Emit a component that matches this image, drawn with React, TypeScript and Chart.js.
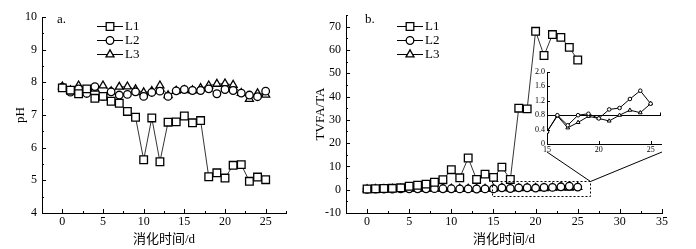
import React, { useEffect, useRef } from 'react';
import { Chart, registerables } from 'chart.js';
Chart.register(...registerables);

// ---------- data ----------
const days = [0, 1, 2, 3, 4, 5, 6, 7, 8, 9, 10, 11, 12, 13, 14, 15, 16, 17, 18, 19, 20, 21, 22, 23, 24, 25];
const seriesNames = ['L1', 'L2', 'L3'];

const phL1 = [7.83, 7.76, 7.65, 7.8, 7.51, 7.57, 7.42, 7.36, 7.11, 6.93, 5.63, 6.91, 5.57, 6.78, 6.79, 6.97, 6.76, 6.83, 5.11, 5.23, 5.07, 5.46, 5.48, 4.97, 5.1, 5.02];
const phL2 = [7.85, 7.7, 7.8, 7.66, 7.87, 7.57, 7.71, 7.61, 7.63, 7.71, 7.57, 7.69, 7.73, 7.57, 7.74, 7.78, 7.75, 7.75, 7.8, 7.65, 7.78, 7.75, 7.67, 7.61, 7.56, 7.73];
const phL3 = [7.87, 7.75, 7.9, 7.7, 7.8, 7.9, 7.72, 7.86, 7.87, 7.78, 7.69, 7.73, 7.9, 7.6, 7.74, 7.76, 7.75, 7.82, 7.9, 7.95, 7.96, 7.92, 7.67, 7.49, 7.66, 7.62];

const tvL1 = [0.3, 0.4, 0.5, 0.6, 0.8, 1.5, 1.9, 2.4, 3.2, 4.3, 8.6, 5.1, 13.6, 4.4, 6.7, 5.3, 9.7, 4.4, 35.0, 34.7, 68.0, 57.6, 66.6, 65.4, 61.1, 55.7];
const tvL2 = [0.2, 0.25, 0.3, 0.3, 0.35, 0.4, 0.4, 0.4, 0.45, 0.4, 0.4, 0.35, 0.35, 0.3, 0.35, 0.34, 0.8, 0.52, 0.8, 0.84, 0.71, 0.96, 1.0, 1.25, 1.48, 1.12];
const tvL3 = [0.15, 0.2, 0.25, 0.3, 0.3, 0.35, 0.35, 0.35, 0.4, 0.35, 0.35, 0.3, 0.3, 0.3, 0.3, 0.34, 0.78, 0.45, 0.6, 0.77, 0.71, 0.64, 0.8, 0.94, 0.87, 1.12];

const insetDays = [15, 16, 17, 18, 19, 20, 21, 22, 23, 24, 25];
const insetRef = 0.8;
const zoomBox = { x0: 14.8, x1: 26.4, y0: -2.9, y1: 3.55 };

const xTicksA = [0, 5, 10, 15, 20, 25];
const yTicksA = [4, 5, 6, 7, 8, 9, 10];
const xTicksB = [0, 5, 10, 15, 20, 25, 30, 35];
const yTicksB = [-10, 0, 10, 20, 30, 40, 50, 60, 70];
const xTicksInset = [15, 20, 25];
const yTicksInset = [0, 0.4, 0.8, 1.2, 1.6, 2.0];

// ---------- style ----------
const SERIF = '"Liberation Serif", "Times New Roman", serif';
const CJK = '"Liberation Serif", "Noto Sans CJK SC", serif';
const styles = ['rect', 'circle', 'triangle'];
const radii = [5.4, 3.8, 4.6];

function toPts(xs: number[], ys: number[]) {
  return xs.map((x, i) => ({ x, y: ys[i] }));
}

function mkDataset(label: string, xs: number[], ys: number[], i: number, small = false) {
  return {
    label,
    data: toPts(xs, ys),
    borderColor: '#000',
    borderWidth: small ? 1 : 0.8,
    pointStyle: styles[i],
    pointRadius: small ? (i === 2 ? 2.2 : 1.8) : radii[i],
    pointBorderWidth: small ? 1 : 1.3,
    pointBorderColor: '#000',
    pointBackgroundColor: '#fff',
    fill: false,
    tension: 0,
  };
}

function drawMarker(ctx: CanvasRenderingContext2D, style: string, x: number, y: number, r: number) {
  ctx.beginPath();
  if (style === 'rect') {
    const s = r * Math.SQRT1_2;
    ctx.rect(x - s, y - s, 2 * s, 2 * s);
  } else if (style === 'circle') {
    ctx.arc(x, y, r, 0, Math.PI * 2);
  } else {
    const a = -Math.PI / 2;
    for (let k = 0; k < 3; k++) {
      const ang = a + (k * 2 * Math.PI) / 3;
      const px = x + r * Math.cos(ang);
      const py = y + r * Math.sin(ang);
      if (k === 0) ctx.moveTo(px, py);
      else ctx.lineTo(px, py);
    }
    ctx.closePath();
  }
  ctx.fillStyle = '#fff';
  ctx.fill();
  ctx.lineWidth = 1.3;
  ctx.strokeStyle = '#000';
  ctx.stroke();
}

const inTicksPlugin = {
  id: 'inTicks',
  afterDraw(chart: any, _a: any, opts: any) {
    const ctx = chart.ctx;
    const { left, bottom } = chart.chartArea;
    ctx.save();
    ctx.strokeStyle = '#000';
    ctx.lineWidth = 1;
    for (const id of ['x', 'y']) {
      const s = chart.scales[id];
      const vals = s.ticks.map((t: any) => t.value);
      const step = vals[1] - vals[0];
      const draw = (v: number, len: number) => {
        const p = Math.round(s.getPixelForValue(v)) + 0.5;
        ctx.beginPath();
        if (id === 'x') {
          ctx.moveTo(p, bottom);
          ctx.lineTo(p, bottom - len);
        } else {
          ctx.moveTo(left, p);
          ctx.lineTo(left + len, p);
        }
        ctx.stroke();
      };
      vals.forEach((v: number) => draw(v, opts.major));
      if (opts.minor) {
        for (let v = vals[0] - step / 2; v <= s.max + 1e-9; v += step) {
          if (v >= s.min - 1e-9) draw(v, opts.minor);
        }
      }
    }
    ctx.restore();
  },
};

const legendPlugin = {
  id: 'customLegend',
  afterDraw(chart: any, _a: any, o: any) {
    if (!o || !o.show) return;
    const ctx = chart.ctx;
    const ca = chart.chartArea;
    ctx.save();
    chart.data.datasets.forEach((ds: any, i: number) => {
      const y = ca.top + o.y0 + i * o.dy;
      const x1 = ca.left + o.x0;
      const x2 = x1 + o.len;
      ctx.strokeStyle = '#000';
      ctx.lineWidth = 1;
      ctx.beginPath();
      ctx.moveTo(x1, y + 0.5);
      ctx.lineTo(x2, y + 0.5);
      ctx.stroke();
      drawMarker(ctx, ds.pointStyle, (x1 + x2) / 2, y + 0.5, ds.pointRadius);
      ctx.fillStyle = '#000';
      ctx.font = `13px ${SERIF}`;
      ctx.textBaseline = 'middle';
      ctx.textAlign = 'left';
      ctx.fillText(ds.label, x2 + 2, y + 1);
    });
    ctx.font = `13px ${SERIF}`;
    ctx.fillStyle = '#000';
    ctx.textBaseline = 'middle';
    ctx.fillText(o.panel, ca.left + o.px, ca.top + o.py);
    ctx.restore();
  },
};

function axisCommon(min: number, max: number, ticks: number[], size: number, fmt?: (v: number) => string) {
  return {
    type: 'linear',
    min,
    max,
    afterBuildTicks: (s: any) => {
      s.ticks = ticks.map((v) => ({ value: v }));
    },
    grid: { display: false, drawTicks: false },
    border: { display: true, color: '#000', width: 1 },
    ticks: {
      color: '#000',
      font: { family: SERIF, size },
      autoSkip: false,
      maxRotation: 0,
      callback: fmt ? (v: any) => fmt(Number(v)) : (v: any) => String(v),
    },
  };
}

export default function App() {
  const leftRef = useRef<HTMLCanvasElement>(null);
  const rightRef = useRef<HTMLCanvasElement>(null);
  const insetRef2 = useRef<HTMLCanvasElement>(null);

  const RIGHT_LEFT = 300;
  const INSET_LEFT = 520;
  const INSET_TOP = 60;

  useEffect(() => {
    document.body.style.margin = '0';

    // ---- left: pH ----
    const left = new Chart(leftRef.current as HTMLCanvasElement, {
      type: 'line',
      data: {
        datasets: [
          mkDataset(seriesNames[0], days, phL1, 0),
          mkDataset(seriesNames[1], days, phL2, 1),
          mkDataset(seriesNames[2], days, phL3, 2),
        ],
      },
      options: {
        animation: false,
        responsive: false,
        maintainAspectRatio: false,
        layout: { padding: { top: 17, right: 14, left: 0, bottom: 0 } },
        plugins: {
          legend: { display: false },
          tooltip: { enabled: false },
          inTicks: { major: 4, minor: 2 },
          customLegend: { show: true, x0: 55, len: 26, y0: 9, dy: 14, panel: 'a.', px: 15, py: 3 },
        } as any,
        scales: {
          x: {
            ...axisCommon(-2.5, 27.5, xTicksA, 12),
            afterFit: (s: any) => {
              s.height = 36;
            },
            ticks: { ...axisCommon(0, 0, [], 12).ticks, padding: 2 },
            title: { display: true, text: '消化时间/d', color: '#000', font: { family: CJK, size: 13 }, padding: { top: 0, bottom: 2 } },
          },
          y: {
            ...axisCommon(4, 10, yTicksA, 12),
            afterFit: (s: any) => {
              s.width = 42;
            },
            ticks: { ...axisCommon(0, 0, [], 12).ticks, padding: 5 },
            title: { display: true, text: 'pH', color: '#000', font: { family: SERIF, size: 13 }, padding: { top: 13, bottom: 0 } },
          },
        } as any,
      },
      plugins: [inTicksPlugin, legendPlugin],
    } as any);

    // ---- inset ----
    const inset = new Chart(insetRef2.current as HTMLCanvasElement, {
      type: 'line',
      data: {
        datasets: [
          mkDataset(seriesNames[1], insetDays, tvL2.slice(15), 1, true),
          mkDataset(seriesNames[2], insetDays, tvL3.slice(15), 2, true),
        ],
      },
      options: {
        animation: false,
        responsive: false,
        maintainAspectRatio: false,
        layout: { padding: { top: 12, right: 9, left: 0, bottom: 0 } },
        plugins: {
          legend: { display: false },
          tooltip: { enabled: false },
          inTicks: { major: 3, minor: 0 },
          customLegend: { show: false },
        } as any,
        scales: {
          x: {
            ...axisCommon(15, 26, xTicksInset, 8),
            afterFit: (s: any) => {
              s.height = 16;
            },
            ticks: { ...axisCommon(0, 0, [], 8).ticks, padding: 1 },
          },
          y: {
            ...axisCommon(0, 2.0, yTicksInset, 8, (v) => (v === 0 ? '0' : v.toFixed(1))),
            afterFit: (s: any) => {
              s.width = 27;
            },
            ticks: { ...axisCommon(0, 0, [], 8, (v) => (v === 0 ? '0' : v.toFixed(1))).ticks, padding: 2 },
          },
        } as any,
      },
      plugins: [
        inTicksPlugin,
        {
          id: 'refLine',
          beforeDatasetsDraw(chart: any) {
            const ctx = chart.ctx;
            const ca = chart.chartArea;
            const y = Math.round(chart.scales.y.getPixelForValue(insetRef)) + 0.5;
            ctx.save();
            ctx.strokeStyle = '#000';
            ctx.lineWidth = 1;
            ctx.beginPath();
            ctx.moveTo(ca.left, y);
            ctx.lineTo(ca.right, y);
            ctx.moveTo(ca.right - 0.5, y);
            ctx.lineTo(ca.right - 0.5, y - 3);
            ctx.stroke();
            ctx.restore();
          },
        },
      ],
    } as any);

    // ---- right: TVFA/TA ----
    const right = new Chart(rightRef.current as HTMLCanvasElement, {
      type: 'line',
      data: {
        datasets: [
          mkDataset(seriesNames[0], days, tvL1, 0),
          mkDataset(seriesNames[1], days, tvL2, 1),
          mkDataset(seriesNames[2], days, tvL3, 2),
        ],
      },
      options: {
        animation: false,
        responsive: false,
        maintainAspectRatio: false,
        layout: { padding: { top: 15, right: 34, left: 0, bottom: 0 } },
        plugins: {
          legend: { display: false },
          tooltip: { enabled: false },
          inTicks: { major: 4, minor: 2 },
          customLegend: { show: true, x0: 51, len: 26, y0: 11, dy: 14, panel: 'b.', px: 19, py: 5 },
        } as any,
        scales: {
          x: {
            ...axisCommon(-2.5, 35, xTicksB, 12),
            afterFit: (s: any) => {
              s.height = 36;
            },
            ticks: { ...axisCommon(0, 0, [], 12).ticks, padding: 2 },
            title: { display: true, text: '消化时间/d', color: '#000', font: { family: CJK, size: 13 }, padding: { top: 0, bottom: 2 } },
          },
          y: {
            ...axisCommon(-10, 75, yTicksB, 12),
            afterFit: (s: any) => {
              s.width = 46;
            },
            ticks: { ...axisCommon(0, 0, [], 12).ticks, padding: 5 },
            title: { display: true, text: 'TVFA/TA', color: '#000', font: { family: SERIF, size: 13 }, padding: { top: 13, bottom: 0 } },
          },
        } as any,
      },
      plugins: [
        inTicksPlugin,
        legendPlugin,
        {
          id: 'zoomBox',
          afterDatasetsDraw(chart: any) {
            const ctx = chart.ctx;
            const sx = chart.scales.x;
            const sy = chart.scales.y;
            const x0 = Math.round(sx.getPixelForValue(zoomBox.x0)) + 0.5;
            const x1 = Math.round(sx.getPixelForValue(zoomBox.x1)) + 0.5;
            const y0 = Math.round(sy.getPixelForValue(zoomBox.y0)) + 0.5;
            const y1 = Math.round(sy.getPixelForValue(zoomBox.y1)) + 0.5;
            ctx.save();
            ctx.strokeStyle = '#000';
            ctx.lineWidth = 1;
            ctx.setLineDash([2, 2]);
            ctx.strokeRect(x0, y1, x1 - x0, y0 - y1);
            ctx.setLineDash([]);
            const ica = inset.chartArea;
            const off = INSET_LEFT - RIGHT_LEFT;
            const ly = INSET_TOP + ica.bottom + 8;
            ctx.beginPath();
            ctx.moveTo(off + ica.left, ly);
            ctx.lineTo(x1, y1);
            ctx.lineTo(off + ica.right + 1, ly);
            ctx.stroke();
            ctx.restore();
          },
        },
      ],
    } as any);

    return () => {
      left.destroy();
      right.destroy();
      inset.destroy();
    };
  }, []);

  return (
    <div style={{ position: 'fixed', left: 0, top: 0, width: 696, height: 249, background: '#fff', overflow: 'hidden' }}>
      <canvas ref={leftRef} width={300} height={249} style={{ position: 'absolute', left: 0, top: 0, width: 300, height: 249 }} />
      <canvas ref={rightRef} width={396} height={249} style={{ position: 'absolute', left: RIGHT_LEFT, top: 0, width: 396, height: 249 }} />
      <canvas ref={insetRef2} width={150} height={100} style={{ position: 'absolute', left: INSET_LEFT, top: INSET_TOP, width: 150, height: 100 }} />
    </div>
  );
}
